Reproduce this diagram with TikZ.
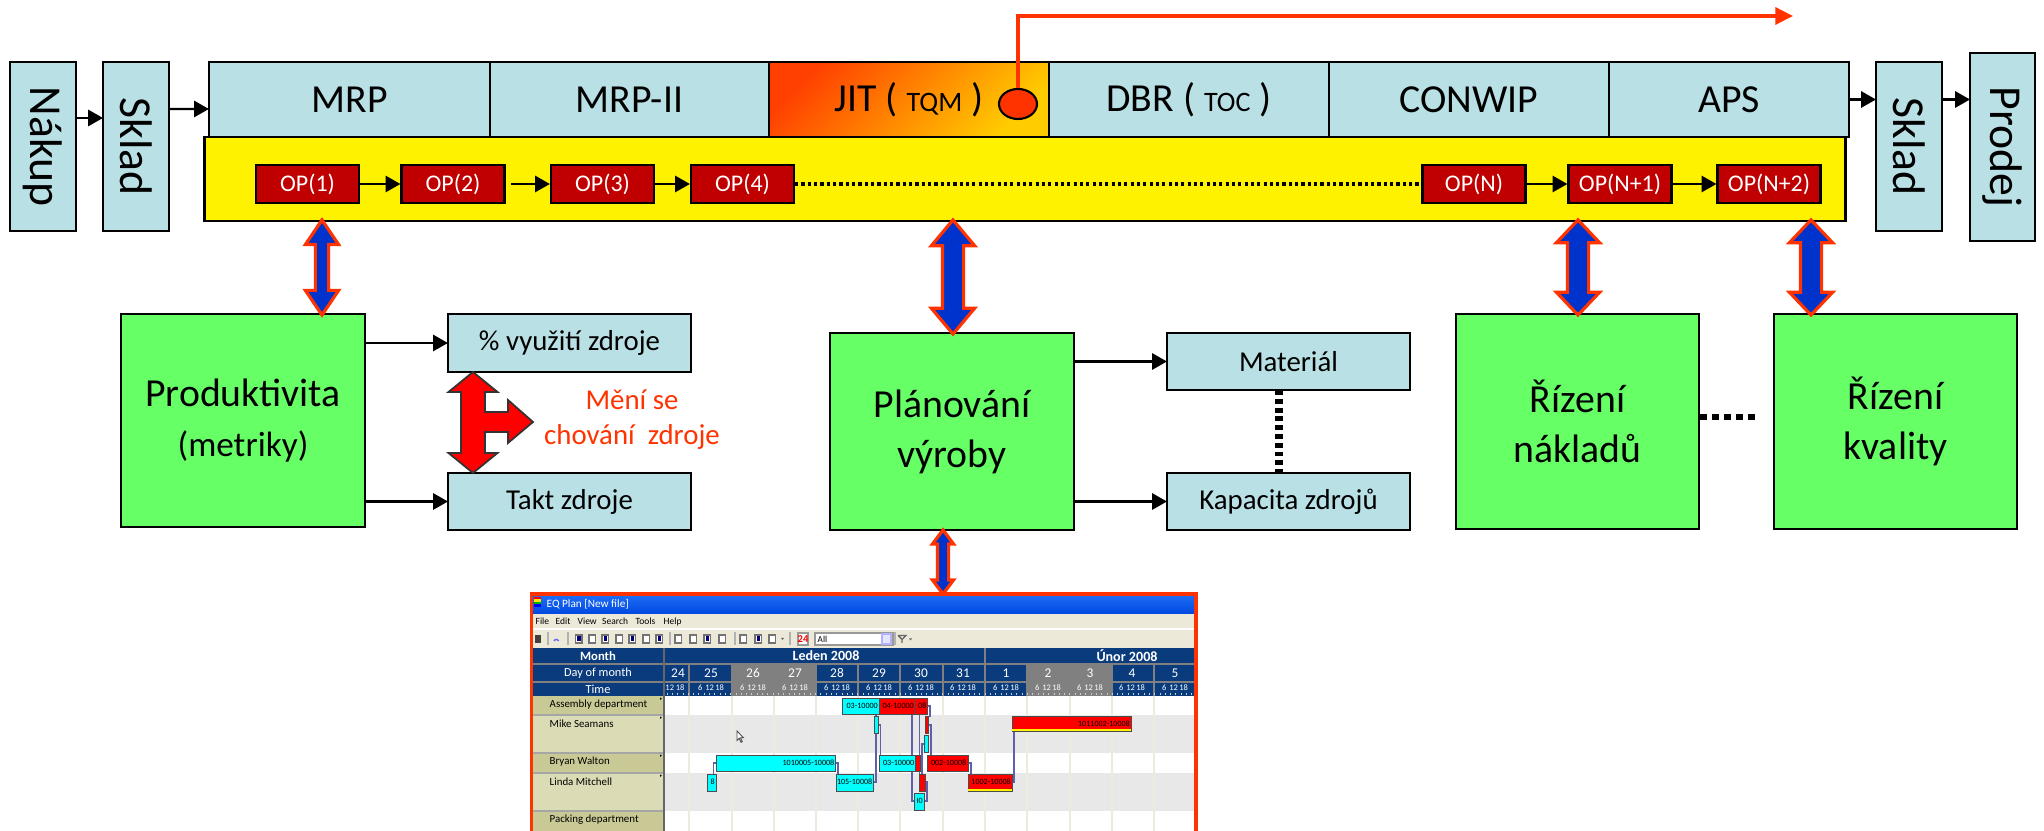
\documentclass[tikz,border=0pt]{standalone}
\usepackage{fontspec}
\setmainfont{Carlito}
\usetikzlibrary{arrows.meta,shapes.geometric,shapes.arrows}

\definecolor{boxblue}{RGB}{185,224,228}
\definecolor{boxgreen}{RGB}{102,255,102}
\definecolor{opred}{RGB}{192,0,0}
\definecolor{linkred}{RGB}{255,51,0}
\definecolor{linkblue}{RGB}{0,51,204}
\definecolor{jitA}{RGB}{255,64,0}
\definecolor{jitB}{RGB}{255,204,0}
\definecolor{xpblue}{RGB}{0,72,224}
\definecolor{xpblueB}{RGB}{30,110,245}
\definecolor{xpmenu}{RGB}{236,233,216}
\definecolor{hdrnavy}{RGB}{10,60,125}
\definecolor{hdrgray}{RGB}{128,128,128}
\definecolor{tanA}{RGB}{201,201,150}
\definecolor{tanB}{RGB}{219,219,181}
\definecolor{rowgray}{RGB}{232,232,232}
\definecolor{gridline}{RGB}{236,236,222}
\definecolor{barcyan}{RGB}{0,255,255}
\definecolor{barline}{RGB}{96,96,170}

\tikzset{
  cell/.style={draw, fill=boxblue, line width=0.6pt, inner sep=0pt, outer sep=0pt, minimum height=0.75cm, font=\fontsize{11.3}{13}\selectfont},
  side/.style={cell, minimum width=0.66cm, minimum height=1.69cm, font=\fontsize{13}{15}\selectfont},
  opbox/.style={draw, fill=opred, text=white, line width=0.6pt, inner sep=0pt, minimum width=1.03cm, minimum height=0.38cm, font=\fontsize{6.8}{8}\selectfont},
  topic/.style={draw, fill=boxgreen, line width=0.6pt, inner sep=0pt, minimum width=2.44cm, align=center, font=\fontsize{11.3}{14.2}\selectfont},
  item/.style={cell, minimum width=2.43cm, minimum height=0.57cm, font=\fontsize{8.2}{10}\selectfont},
  flow/.style={-{Triangle[length=4.2pt,width=4.6pt]}, line width=0.6pt},
  link/.style={double arrow, draw=linkred, fill=linkblue, line width=0.9pt, rotate=90, inner sep=0pt},
  chartbar/.style={draw=gray!60!black, line width=0.2pt},
  chartlink/.style={draw=barline, line width=0.3pt},
  tiny/.style={font=\fontsize{2.3}{3}\selectfont, inner sep=0pt},
  hdr/.style={text=white, inner sep=0pt, font=\fontsize{3.5}{4}\selectfont},
  rowlabel/.style={anchor=west, inner sep=0pt, font=\fontsize{3.1}{4}\selectfont}
}

\begin{document}
\begin{tikzpicture}[x=0.01cm, y=-0.01cm]
\useasboundingbox (0,0) rectangle (2044,831);

% production lane
\node[draw, fill=yellow, line width=0.6pt, minimum width=16.4cm, minimum height=0.84cm, inner sep=0pt] (lane) at (1025,179) {};
\node[side] (nakup) at (42.75,146.5) {\rotatebox{-90}{Nákup}};
\node[side] (skladA) at (136,146.5) {\rotatebox{-90}{Sklad}};
\node[cell, minimum width=2.81cm] (mrp) at (349.5,99.5) {MRP};
\node[cell, minimum width=2.79cm] (mrpii) at (629.5,99.5) {MRP-II};
\node[cell, minimum width=2.80cm, top color=jitA, bottom color=jitB, shading angle=45] (jit) at (909,99.5) {JIT ( {\fontsize{8}{9}\selectfont TQM} )};
\node[cell, minimum width=2.80cm] (dbr) at (1189,99.5) {DBR ( {\fontsize{8}{9}\selectfont TOC} )};
\node[cell, minimum width=2.80cm] (conwip) at (1469,99.5) {CONWIP};
\node[cell, minimum width=2.40cm] (aps) at (1729,99.5) {APS};
\node[side] (skladB) at (1909,146.5) {\rotatebox{-90}{Sklad}};
\node[side, minimum width=0.65cm, minimum height=1.88cm] (prodej) at (2002.5,147) {\rotatebox{-90}{Prodej}};
\node[draw, fill=linkred, ellipse, minimum width=0.38cm, minimum height=0.3cm, inner sep=0pt, line width=0.6pt] (jitdot) at (1018,104) {};
\coordinate (jitend) at (1793,16);
\draw[linkred, line width=1pt, -{Triangle[length=5pt,width=4.8pt]}] (jitdot.north) |- (jitend);

\draw[flow] ([yshift=0.285cm]nakup.east) -- ([yshift=0.285cm]skladA.west);
\draw[flow] ([yshift=0.375cm]skladA.east) -- ([yshift=-0.095cm]mrp.west);
\draw[flow] (aps.east) -- (aps.east -| skladB.west);
\draw[flow] (skladB.east |- aps.east) -- (prodej.west |- aps.east);

\node[opbox] (op1) at (307.5,184) {OP(1)};
\node[opbox] (op2) at (453,184) {OP(2)};
\node[opbox] (op3) at (602.5,184) {OP(3)};
\node[opbox] (op4) at (742.5,184) {OP(4)};
\node[opbox] (opn) at (1474,184) {OP(N)};
\node[opbox] (opn1) at (1620,184) {OP(N+1)};
\node[opbox] (opn2) at (1769,184) {OP(N+2)};
\draw[flow] (op1) -- (op2);
\draw[flow, shorten <=1.5pt] (op2) -- (op3);
\draw[flow] (op3) -- (op4);
\draw[line width=1.1pt, dash pattern=on 0.9pt off 0.9pt] (op4) -- (opn);
\draw[flow] (opn) -- (opn1);
\draw[flow] (opn1) -- (opn2);

% management areas
\node[topic, minimum height=2.13cm] (prod) at (243,420.5) {Produktivita\\{\fontsize{10}{12}\selectfont (metriky)}};
\node[item, minimum height=0.58cm] (vyuz) at (569.5,343) {\% využití zdroje};
\node[item] (takt) at (569.5,501.5) {Takt zdroje};
\draw[flow] (prod.east |- vyuz.west) -- (vyuz.west);
\draw[flow] (prod.east |- takt.west) -- (takt.west);
\draw[fill=red, draw=black!80, line width=0.5pt] (473,372) -- (497.5,392) -- (485,392) -- (485,412) -- (508,412) -- (508,400) -- (533,422) -- (508,443) -- (508,432) -- (485,432) -- (485,453) -- (497.5,453) -- (473,473) -- (448.5,453) -- (461,453) -- (461,392) -- (448.5,392) -- cycle;
\node[text=linkred, align=center, inner sep=0pt, font=\fontsize{8.2}{10}\selectfont] (meni) at (632,420) {Mění se\\chování~ zdroje};

\node[topic, minimum height=1.97cm] (plan) at (952,431.5) {Plánování\\výroby};
\node[item] (mat) at (1288.5,361.5) {Materiál};
\node[item] (kap) at (1288.5,501.5) {Kapacita zdrojů};
\draw[flow] (plan.east |- mat.west) -- (mat.west);
\draw[flow] (plan.east |- kap.west) -- (kap.west);
\draw[line width=2pt, dash pattern=on 1.4pt off 1.1pt] ([xshift=-0.095cm]mat.south) -- ([xshift=-0.095cm]kap.north);

\node[topic, minimum width=2.43cm, minimum height=2.15cm] (rn) at (1577.5,421.5) {Řízení\\nákladů};
\node[topic, minimum width=2.43cm, minimum height=2.15cm] (rk) at (1895.5,421.5) {Řízení\\kvality};
\draw[line width=1.7pt, dash pattern=on 2pt off 1.4pt, shorten >=0.15cm] ([yshift=0.045cm]rn.east) -- ([yshift=0.045cm]rk.west);

% planning screenshot
\fill[white] (531,594) rectangle (1196,831);
\shade[top color=xpblueB, bottom color=xpblue] (532,595) rectangle (1195,614);
\fill[red] (534,597) rectangle (541,599.5);
\fill[yellow!90!orange] (534,599.5) rectangle (541,602);
\fill[green!70!black] (534,602) rectangle (541,604.5);
\fill[blue] (534,604.5) rectangle (541,607);
\node[anchor=west, text=white, inner sep=0pt, font=\fontsize{3.2}{4}\selectfont] (eqtitle) at (546,604) {EQ Plan [New file]};
\fill[xpmenu] (532,614) rectangle (1195,648);
\draw[white, line width=0.4pt] (532,629) -- (1195,629);
\foreach \x/\w in {535/File, 555/Edit, 577/View, 601.5/Search, 635/Tools, 663/Help}
  \node[rowlabel, font=\fontsize{2.7}{3}\selectfont] (menu\w) at (\x,621.5) {\w};
\fill[black!75] (535,635) rectangle (541,643);
\draw[blue!60, line width=0.4pt] (554,641) arc (200:340:2.5);
\foreach \x in {578.5,592,605,619,632,646,659,678,693,707,722,743,758,772}
  \draw[black!55, fill=white, line width=0.3pt] (\x-3,635) rectangle ++(6.5,8);
\foreach \x in {578.5,605,632,659,707,758}
  \fill[blue!50!black] (\x-1.5,636.5) rectangle ++(3.5,5);
\fill[black!60] (781,638) -- (784,638) -- (782.5,640) -- cycle;
\foreach \x in {548,568,670,735,790,895}
  \draw[black!30, line width=0.3pt] (\x,632) -- (\x,645);
\draw[black!40, fill=white, line width=0.3pt] (798,633) rectangle (808,645);
\node[text=red, inner sep=0pt, font=\bfseries\fontsize{3}{4}\selectfont] (today) at (803,639) {24};
\draw[black!40, fill=white, line width=0.3pt] (815,633) rectangle (893,645);
\node[rowlabel, font=\fontsize{2.6}{3}\selectfont] (combo) at (817,639) {All};
\draw[blue!30, fill=blue!10, line width=0.3pt] (882,634) rectangle (891,644);
\draw[black!60, line width=0.4pt] (898,635.5) -- (906,635.5) -- (902,639.5) -- (902,643) (898,635.5) -- (902,639.5);
\fill[black!60] (909,638.5) -- (912,638.5) -- (910.5,640.5) -- cycle;

\fill[hdrnavy] (532,648) rectangle (1195,696);
\fill[hdrgray] (732,664) rectangle (816,696);
\fill[hdrgray] (1027,664) rectangle (1112,696);
\draw[black!50, line width=0.3pt] (532,664) -- (1195,664) (532,682) -- (1195,682) (985,648) -- (985,664);
\foreach \x in {689,732,774,816,858,900,943,985,1027,1070,1112,1154}
  \draw[black!50, line width=0.3pt] (\x,664) -- (\x,696);
\node[hdr, font=\bfseries\fontsize{3.6}{4}\selectfont] (month) at (598,656) {Month};
\node[hdr] (daymonth) at (598,673) {Day of month};
\node[hdr] (time) at (598,689) {Time};
\node[hdr, font=\bfseries\fontsize{4}{5}\selectfont] (leden) at (826,656) {Leden 2008};
\node[hdr, font=\bfseries\fontsize{4}{5}\selectfont] (unor) at (1127,656) {Únor 2008};
\foreach \x/\d in {678/24, 711/25, 753/26, 795/27, 837/28, 879/29, 921/30, 963/31, 1006/1, 1048/2, 1090/3, 1132/4, 1175/5}
  \node[hdr, font=\fontsize{3.8}{4}\selectfont] (day\d) at (\x,673) {\d};
\node[hdr, font=\fontsize{2.4}{3}\selectfont] (tick24) at (675,688) {12 18};
\foreach \x in {711,753,795,837,879,921,963,1006,1048,1090,1132,1175}
  \node[hdr, font=\fontsize{2.4}{3}\selectfont] (tick\x) at (\x,688) {6\,\,12\,18};
\foreach \x in {667,672.3,...,1195}
  \draw[white!80!black, line width=0.2pt] (\x,692.8) -- (\x,695.3);

% rows
\fill[tanA] (532,696) rectangle (664,715);
\fill[tanB] (532,715) rectangle (664,753);
\fill[tanA] (532,753) rectangle (664,773);
\fill[tanB] (532,773) rectangle (664,811);
\fill[tanA] (532,811) rectangle (664,831);
\fill[rowgray] (664,715) rectangle (1195,753);
\fill[rowgray] (664,773) rectangle (1195,811);
\foreach \x in {689,732,774,816,858,900,943,985,1027,1070,1112,1154}
  \draw[gridline, line width=0.3pt] (\x,696) -- (\x,831);
\foreach \y in {715,753,773,811}
  \draw[black!35, line width=0.3pt] (532,\y) -- (664,\y);
\draw[black!60, line width=0.4pt] (664,648) -- (664,831);
\node[rowlabel] (assembly) at (549,705) {Assembly department};
\node[rowlabel] (mike) at (549,724) {Mike Seamans};
\node[rowlabel] (bryan) at (549,762) {Bryan Walton};
\node[rowlabel] (linda) at (549,782) {Linda Mitchell};
\node[rowlabel] (packing) at (549,820) {Packing department};
\foreach \y in {697.5,716.5,754.5,774.5}
  \fill (660,\y) -- (661.8,\y+1.2) -- (660,\y+2.4) -- cycle;

% links between jobs
\draw[chartlink] (716,763) -- (713.5,763) -- (713.5,776) -- (716,776);
\draw[chartlink] (835.7,763) -- (838,763) -- (838,782) -- (836.6,782);
\draw[chartlink] (873.5,782) -- (876,782) -- (876,733.3);
\draw[chartlink] (878.2,725) -- (880.5,725) -- (880.5,763) -- (879.1,763);
\draw[chartlink] (879.1,706) -- (876,706) -- (876,716.7);
\draw[chartlink] (912,714) -- (912,801) -- (914.7,801);
\draw[chartlink] (919.5,714) -- (919.5,774.3);
\draw[chartlink] (927.7,706) -- (930,706) -- (930,716.7);
\draw[chartlink] (928.5,725) -- (931,725) -- (931,765) -- (927.7,765);
\draw[chartlink] (924.6,744) -- (922,744) -- (922,774.3);
\draw[chartlink] (925.5,782) -- (927,782) -- (927,801) -- (924.6,801);
\draw[chartlink] (968,763) -- (971,763) -- (971,779) -- (968,779);
\draw[chartlink] (1014,731.7) -- (1014,782) -- (1012.2,782);

% jobs
\filldraw[chartbar, fill=barcyan] (842,698.3) rectangle (879.1,714);
\filldraw[chartbar, fill=barcyan] (874.3,716.7) rectangle (878.2,733.3);
\filldraw[chartbar, fill=barcyan] (924.6,735) rectangle (928.5,752.7);
\filldraw[chartbar, fill=barcyan] (716,755) rectangle (835.7,771.7);
\filldraw[chartbar, fill=barcyan] (879.1,755) rectangle (915.5,771.7);
\filldraw[chartbar, fill=barcyan] (707.8,774.3) rectangle (716,791);
\filldraw[chartbar, fill=barcyan] (836.6,774.3) rectangle (873.5,791);
\filldraw[chartbar, fill=barcyan] (914.7,793.3) rectangle (924.6,810);
\filldraw[chartbar, fill=red] (879.1,698.3) rectangle (915.5,714);
\filldraw[chartbar, fill=red] (915.5,698.3) rectangle (927.7,714);
\filldraw[chartbar, fill=red] (925.5,716.7) rectangle (928.5,733.3);
\filldraw[chartbar, fill=red] (1012.2,716.7) rectangle (1131.5,731.7);
\fill[yellow] (1012.4,729.3) rectangle (1131.3,731.5);
\filldraw[chartbar, fill=red] (915.5,755) rectangle (919.9,771.7);
\filldraw[chartbar, fill=red] (927.7,755) rectangle (968,771.7);
\filldraw[chartbar, fill=red] (919,774.3) rectangle (925.5,791);
\filldraw[chartbar, fill=red] (968,774.3) rectangle (1012.2,791);
\fill[yellow] (968.2,788.6) rectangle (1012,790.8);
\node[tiny, anchor=east] (job1) at (878.5,706) {03-10000};
\node[tiny, anchor=east] (job2) at (914.5,706) {04-10000};
\node[tiny, anchor=east] (job3) at (927,706) {08};
\node[tiny, anchor=east] (job4) at (1130.5,723.5) {1011002-10008};
\node[tiny, anchor=east] (job5) at (835,763) {1010005-10008};
\node[tiny, anchor=east] (job6) at (915,763) {03-10000};
\node[tiny, anchor=east] (job7) at (967,763) {002-10008};
\node[tiny, anchor=east] (job8) at (715.5,782) {8};
\node[tiny, anchor=east] (job9) at (873,782) {105-10008};
\node[tiny, anchor=east] (job10) at (1011.5,781.5) {1002-10008};
\node[tiny, anchor=east] (job11) at (923.5,801) {I0};
\draw[fill=white, draw=black!70, line width=0.25pt] (737,731) -- (737,740.5) -- (739.2,738.3) -- (741,742.3) -- (742.3,741.7) -- (740.6,737.8) -- (743.5,737.8) -- cycle;
\draw[linkred, line width=1pt] (531.5,831) -- (531.5,594) -- (1196,594) -- (1196,831);

% links to the lane
\node[link, minimum height=0.95cm, minimum width=0.30cm, inner ysep=0.05cm, double arrow head extend=0.1cm, double arrow tip angle=68] (a1) at (322,267.5) {};
\node[link, minimum height=1.14cm, minimum width=0.40cm, inner ysep=0.09cm, double arrow head extend=0.11cm, double arrow tip angle=80] (a2) at (953,277) {};
\node[link, minimum height=0.95cm, minimum width=0.40cm, inner ysep=0.09cm, double arrow head extend=0.11cm, double arrow tip angle=87] (a3) at (1578,267.5) {};
\node[link, minimum height=0.95cm, minimum width=0.40cm, inner ysep=0.09cm, double arrow head extend=0.11cm, double arrow tip angle=87] (a4) at (1811,267.5) {};
\node[link, minimum height=0.64cm, minimum width=0.18cm, inner ysep=0.04cm, double arrow head extend=0.05cm, double arrow tip angle=74] (a5) at (943,562) {};
\end{tikzpicture}
\end{document}
